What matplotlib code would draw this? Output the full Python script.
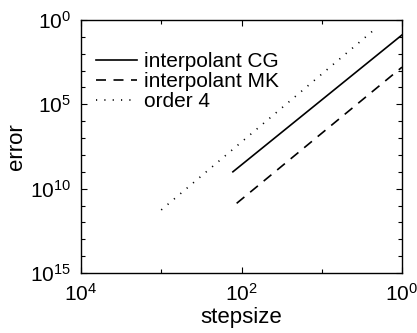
import numpy as np
import matplotlib
matplotlib.use('Agg')
import matplotlib.pyplot as plt
from matplotlib.ticker import FixedLocator, FixedFormatter, NullFormatter

plt.rcParams['font.family'] = ['Liberation Sans', 'DejaVu Sans']
plt.rcParams['mathtext.fontset'] = 'custom'
plt.rcParams['mathtext.rm'] = 'Liberation Sans'
plt.rcParams['mathtext.it'] = 'Liberation Sans'

# values
h_cg = [1 / 128, 1.0]
err_cg = [1.0e-9, 1.3e-1]
h_mk = [0.0087, 1.0]
err_mk = [1.35e-11, 1.6e-3]
h_ord4 = [1e-3, 0.43]
err_ord4 = [5.5e-12, 0.22]

xticks = [1e-4, 1e-2, 1e0]
xticklabels = ['$10^{4}$', '$10^{2}$', '$10^{0}$']
yticks = [1e-15, 1e-10, 1e-5, 1e0]
yticklabels = ['$10^{15}$', '$10^{10}$', '$10^{5}$', '$10^{0}$']

fig = plt.figure(figsize=(4.17, 3.33), dpi=100)
ax = fig.add_axes([81 / 417, 1 - 273 / 333, 321 / 417, 253 / 333])

ax.loglog(h_cg, err_cg, 'k-', lw=1.2, label='interpolant CG')
ax.loglog(h_mk, err_mk, 'k', ls=(0, (6, 4.5)), lw=1.2, label='interpolant MK')
ax.loglog(h_ord4, err_ord4, 'k', ls=(0, (0.7, 4.3)), lw=1.2, label='order 4')

ax.set_xlim(1e-4, 1)
ax.set_ylim(1e-15, 1)

ax.xaxis.set_major_locator(FixedLocator(xticks))
ax.xaxis.set_major_formatter(FixedFormatter(xticklabels))
ax.xaxis.set_minor_locator(FixedLocator([1e-3, 1e-1]))
ax.xaxis.set_minor_formatter(NullFormatter())
ax.yaxis.set_major_locator(FixedLocator(yticks))
ax.yaxis.set_major_formatter(FixedFormatter(yticklabels))
ax.yaxis.set_minor_locator(FixedLocator([10.0 ** k for k in range(-14, 0) if k % 5 != 0]))
ax.yaxis.set_minor_formatter(NullFormatter())

ax.tick_params(which='both', direction='in', top=True, right=True, labelsize=15)
ax.tick_params(which='major', length=4, width=0.8)
ax.tick_params(which='minor', length=3, width=0.8)
ax.tick_params(axis='x', which='major', pad=7)
ax.tick_params(axis='y', which='major', pad=7)
for s in ax.spines.values():
    s.set_linewidth(1.0)

ax.set_xlabel('stepsize', fontsize=16, labelpad=2)
ax.set_ylabel('error', fontsize=16, labelpad=2)

ax.legend(loc='upper left', frameon=False, fontsize=15, handlelength=2.0,
          handletextpad=0.3, labelspacing=0.05, borderaxespad=0.0,
          bbox_to_anchor=(0.02, 0.905))

fig.savefig('out.png', dpi=100)
